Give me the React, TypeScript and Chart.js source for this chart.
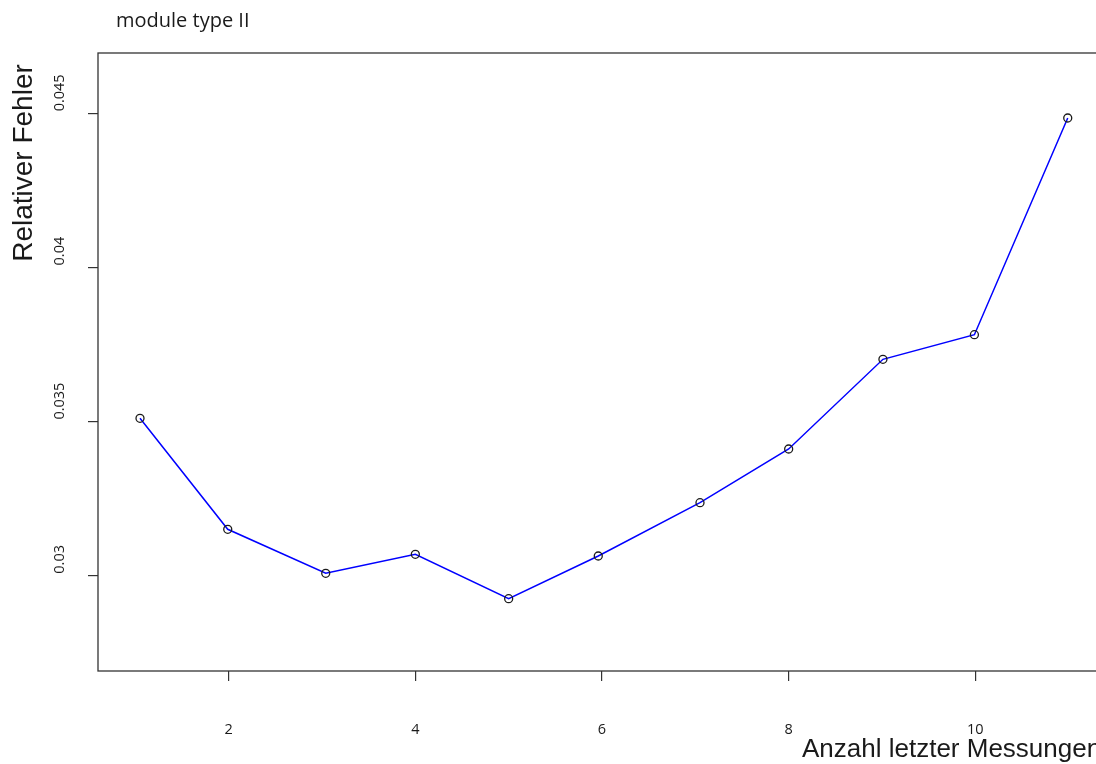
import { useEffect, useRef } from "react";
import { Chart, registerables } from "chart.js";

Chart.register(...registerables);

// Number of most recent measurements used (x) and the resulting relative error (y)
const anzahl = [1.05, 1.99, 3.04, 4.0, 5.0, 5.96, 7.05, 8.0, 9.01, 9.99, 10.99];
const fehler = [
  0.035106, 0.031505, 0.030078, 0.030694, 0.029254, 0.030639, 0.032368, 0.03411,
  0.03702, 0.037818, 0.044848,
];

const xTicks = [2, 4, 6, 8, 10];
const xTickLabels = ["2", "4", "6", "8", "10"];
const yTicks = [0.03, 0.035, 0.04, 0.045];
const yTickLabels = ["0.03", "0.035", "0.04", "0.045"];

const titleText = "module type II";
const xTitle = "Anzahl letzter Messungen";
const yTitle = "Relativer Fehler";

const INK = "#1a1a1a";
const AXIS = "#333";

const textPlugin = {
  id: "rStyleText",
  afterDraw(chart: any) {
    const { ctx, chartArea } = chart;
    const xs = chart.scales.x;
    const ys = chart.scales.y;
    ctx.save();

    // plot frame
    ctx.strokeStyle = AXIS;
    ctx.lineWidth = 1.3;
    ctx.strokeRect(
      chartArea.left,
      chartArea.top,
      chartArea.right - chartArea.left,
      chartArea.bottom - chartArea.top
    );

    ctx.fillStyle = INK;

    // main title
    ctx.font = "20px 'Open Sans'";
    ctx.textAlign = "left";
    ctx.textBaseline = "alphabetic";
    ctx.fillText(titleText, 116, 27);

    // x tick labels
    ctx.font = "14.5px 'Open Sans'";
    ctx.textAlign = "center";
    xTicks.forEach((v, i) => {
      ctx.fillText(xTickLabels[i], xs.getPixelForValue(v), 734);
    });

    // y tick labels, rotated, starting at the tick
    ctx.textAlign = "left";
    yTicks.forEach((v, i) => {
      ctx.save();
      ctx.translate(64, ys.getPixelForValue(v) - 2);
      ctx.rotate(-Math.PI / 2);
      ctx.fillText(yTickLabels[i], 0, 0);
      ctx.restore();
    });

    // axis titles
    ctx.font = "26px 'Liberation Sans'";
    ctx.textAlign = "left";
    ctx.fillText(xTitle, 802, 757);

    ctx.save();
    ctx.font = "28px 'Liberation Sans'";
    ctx.translate(32, 163);
    ctx.rotate(-Math.PI / 2);
    ctx.textAlign = "center";
    ctx.fillText(yTitle, 0, 0);
    ctx.restore();

    ctx.restore();
  },
};

export default function App() {
  const canvasRef = useRef<HTMLCanvasElement>(null);

  useEffect(() => {
    const canvas = canvasRef.current;
    if (!canvas) return;
    const chart = new Chart(canvas, {
      type: "line",
      data: {
        datasets: [
          {
            data: anzahl.map((x, i) => ({ x, y: fehler[i] })),
            borderColor: "#0000ff",
            borderWidth: 1.5,
            tension: 0,
            fill: false,
            pointRadius: 4,
            pointHoverRadius: 4,
            pointBorderWidth: 1.3,
            pointBorderColor: INK,
            pointBackgroundColor: "rgba(0,0,0,0)",
          },
        ],
      },
      options: {
        responsive: false,
        animation: false,
        events: [],
        layout: { padding: { left: 88, top: 53, right: 94, bottom: 83 } },
        plugins: {
          legend: { display: false },
          tooltip: { enabled: false },
          title: { display: false },
        },
        scales: {
          x: {
            type: "linear",
            min: 0.6,
            max: 11.4,
            afterBuildTicks: (scale: any) => {
              scale.ticks = xTicks.map((value) => ({ value }));
            },
            ticks: { display: false },
            border: { display: false },
            grid: {
              drawOnChartArea: false,
              drawTicks: true,
              tickLength: 10,
              color: AXIS,
              lineWidth: 1.2,
            },
          },
          y: {
            type: "linear",
            min: 0.026908,
            max: 0.046957,
            afterBuildTicks: (scale: any) => {
              scale.ticks = yTicks.map((value) => ({ value }));
            },
            ticks: { display: false },
            border: { display: false },
            grid: {
              drawOnChartArea: false,
              drawTicks: true,
              tickLength: 10,
              color: AXIS,
              lineWidth: 1.2,
            },
          },
        },
      },
      plugins: [textPlugin],
    });
    return () => chart.destroy();
  }, []);

  return (
    <div
      style={{
        position: "fixed",
        left: 0,
        top: 0,
        width: 1096,
        height: 764,
        overflow: "hidden",
        background: "#fff",
      }}
    >
      <canvas ref={canvasRef} width={1200} height={764} style={{ display: "block" }} />
    </div>
  );
}
